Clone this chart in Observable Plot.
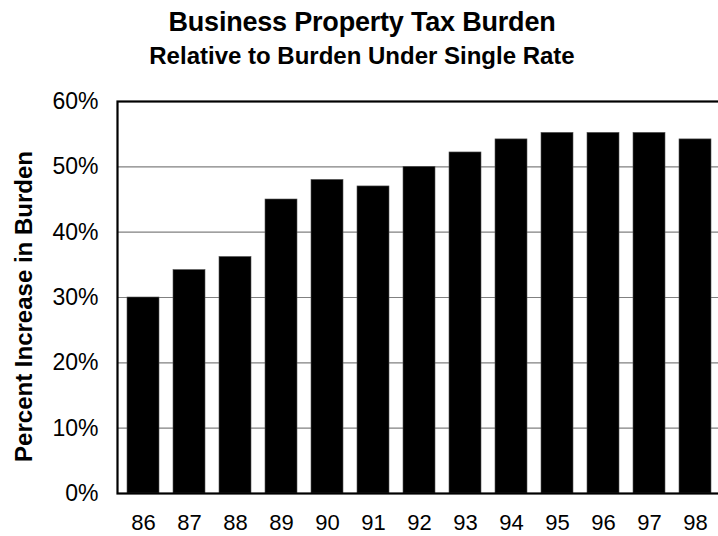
<!DOCTYPE html>
<html>
<head>
<meta charset="utf-8">
<script src="https://cdn.jsdelivr.net/npm/d3@7"></script>
<script src="https://cdn.jsdelivr.net/npm/@observablehq/plot@0.6"></script>
<style>
  html, body { margin: 0; padding: 0; background: #fff; overflow: hidden; }
  #wrap { position: relative; width: 718px; height: 536px; font-family: "Liberation Sans", Arial, sans-serif; }
  #header { position: relative; width: 718px; height: 80px; }
  .title { position: absolute; left: 0; width: 724px; text-align: center; font-weight: bold; color: #000; white-space: nowrap; }
  #t1 { top: 9px; font-size: 27px; line-height: 27px; letter-spacing: -0.2px; }
  #t2 { top: 44px; font-size: 24px; line-height: 24px; }
</style>
</head>
<body>
<div id="wrap">
  <div id="header">
    <div class="title" id="t1">Business Property Tax Burden</div>
    <div class="title" id="t2">Relative to Burden Under Single Rate</div>
  </div>
  <div id="chart"></div>
</div>
<script>
const years = ["86","87","88","89","90","91","92","93","94","95","96","97","98"];
const values = [30, 34.2, 36.2, 45, 48, 47, 50, 52.2, 54.2, 55.2, 55.2, 55.2, 54.2];
const yTicks = [0, 10, 20, 30, 40, 50, 60];
const gridTicks = [10, 20, 30, 40, 50];
const yLabel = "Percent Increase in Burden";

const data = years.map((y, i) => ({year: y, value: values[i]}));

const chart = Plot.plot({
  width: 718,
  height: 456,
  marginTop: 21,
  marginBottom: 43,
  marginLeft: 117,
  marginRight: -3,
  style: {fontFamily: "'Liberation Sans', Arial, sans-serif", fontSize: "23px", color: "#000", background: "#fff", overflow: "visible"},
  x: {domain: years, range: [110.6, 727.8], padding: 0.31, label: null},
  y: {domain: [0, 60], label: null},
  marks: [
    Plot.ruleY(gridTicks, {stroke: "#808080", strokeWidth: 1.2}),
    Plot.barY(data, {x: "year", y: "value", fill: "#000", stroke: "#555", strokeWidth: 0.6}),
    Plot.frame({stroke: "#000", strokeWidth: 2.2}),
    Plot.axisY({ticks: yTicks, tickFormat: d => d + "%", tickSize: 0, tickPadding: 19, fontSize: 23, label: null}),
    Plot.axisX({tickSize: 0, tickPadding: 21, fontSize: 22, label: null}),
    Plot.text([yLabel], {text: d => d, frameAnchor: "left", textAnchor: "middle", lineAnchor: "middle", dx: -93, dy: 9, rotate: -90, fontSize: 24, fontWeight: "bold", fill: "#000"})
  ]
});
document.getElementById("chart").appendChild(chart);
</script>
</body>
</html>
